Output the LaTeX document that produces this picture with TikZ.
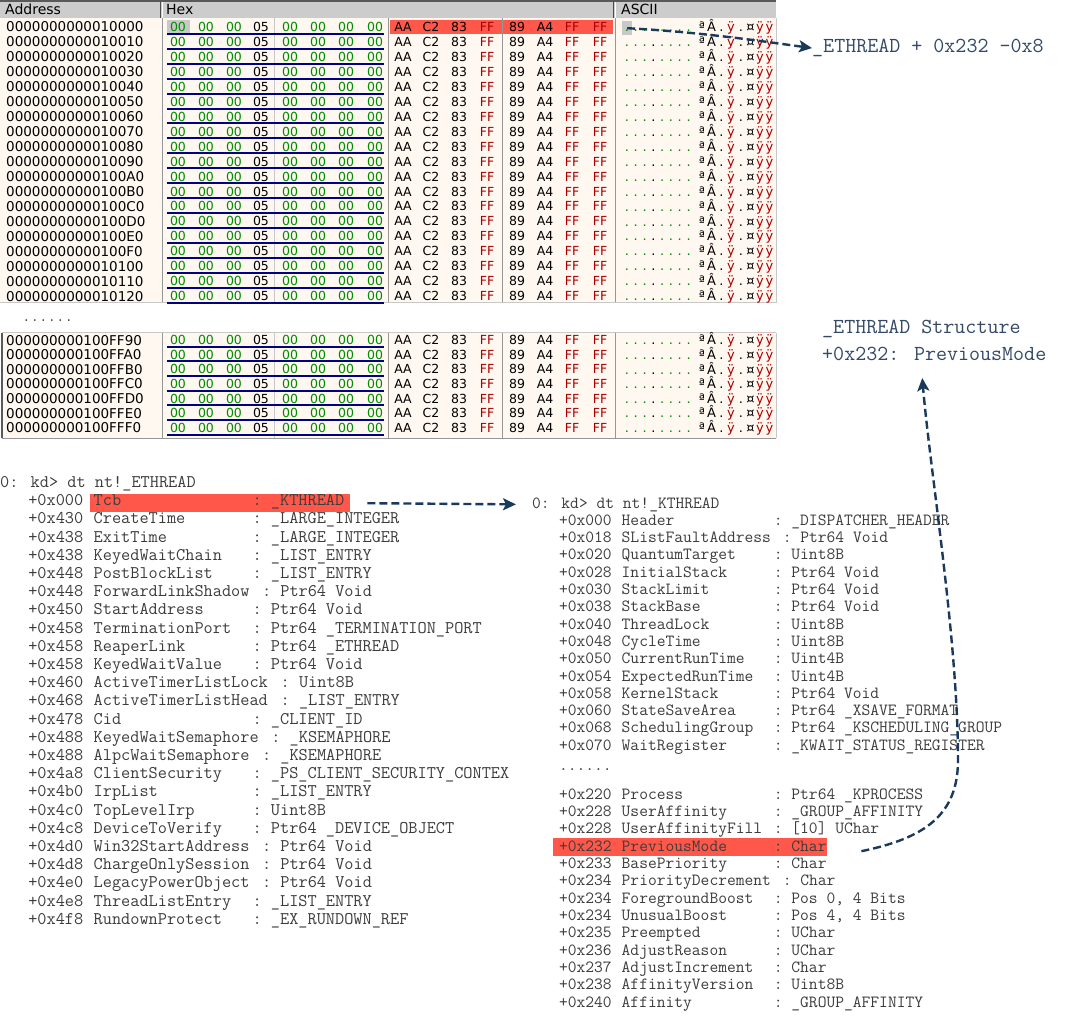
\documentclass[tikz,border=0pt]{standalone}
\usepackage{fontspec}
\setmainfont{DejaVu Sans}
\newfontfamily\hexfont{DejaVu Sans}
\usetikzlibrary{arrows.meta}
\definecolor{panelbg}{RGB}{255,248,240}
\definecolor{hdrbg}{RGB}{204,204,204}
\definecolor{hexgreen}{RGB}{0,140,0}
\definecolor{hexred}{RGB}{170,0,0}
\definecolor{ulblue}{RGB}{0,0,128}
\definecolor{hilite}{RGB}{255,88,74}
\definecolor{arrowc}{RGB}{26,58,92}
\definecolor{annot}{RGB}{52,73,102}
\definecolor{dbgtext}{RGB}{60,60,60}
\definecolor{sepgray}{RGB}{150,150,150}
\definecolor{selgray}{RGB}{200,200,200}
\tikzset{
  addr/.style={font=\hexfont\fontsize{13.5}{13.5}\selectfont, anchor=base west, inner sep=0pt},
  hb/.style={font=\hexfont\fontsize{12.5}{12.5}\selectfont, anchor=base, inner sep=0pt},
  asc/.style={font=\hexfont\fontsize{13}{13}\selectfont, anchor=base, inner sep=0pt},
  hdr/.style={font=\hexfont\fontsize{14}{14}\selectfont, anchor=base west, inner sep=0pt},
  ltxt/.style={font=\ttfamily\fontsize{17.8}{17.8}\selectfont, text=dbgtext, anchor=base west, inner sep=0pt},
  rtxt/.style={font=\ttfamily\fontsize{17.05}{17.05}\selectfont, text=dbgtext, anchor=base west, inner sep=0pt},
  note/.style={font=\ttfamily\fontsize{21.4}{21.4}\selectfont, text=annot, anchor=base west, inner sep=0pt},
  hlbox/.style={fill=hilite, inner sep=0pt, anchor=north west},
  selbox/.style={fill=selgray, inner sep=0pt, anchor=north west},
  conn/.style={draw=arrowc, line width=2.4pt, dash pattern=on 8pt off 4pt, -{Stealth[length=13pt,width=12pt,inset=3pt]}},
  colsep/.style={draw=sepgray, line width=1pt},
  lightsep/.style={draw=selgray, line width=1pt},
}
\newcommand\hexrow[3]{%
  \node[addr] (ad#3) at (6,#1+5) {#2};
  \foreach \bx/\bt/\bc [count=\k] in {178/00/hexgreen,206/00/hexgreen,234/00/hexgreen,261/05/black,290/00/hexgreen,318/00/hexgreen,346/00/hexgreen,375/00/hexgreen,403/AA/black,431/C2/black,459/83/black,487/FF/hexred,517/89/black,545/A4/black,572/FF/hexred,600/FF/hexred}
    {\node[hb, text=\bc] (by#3-\k) at (\bx,#1+4.6) {\bt};}
  \draw[ulblue, line width=2pt] (167,#1+6.8) -- (384,#1+6.8);
  \foreach \cx/\ct/\cc [count=\k] in {627/./hexgreen,635.8/./hexgreen,644.6/./hexgreen,653.4/./black,662.2/./hexgreen,671/./hexgreen,679.8/./hexgreen,688.6/./hexgreen,702/ª/black,711.5/Â/black,721.5/./black,731/ÿ/hexred,741/./black,750.5/¤/black,760/ÿ/hexred,769.5/ÿ/hexred}
    {\node[asc, text=\cc] (ch#3-\k) at (\cx,#1+4.7) {\ct};}
}
\newcommand\erow[5]{%
  \node[ltxt] (Eo#3) at (3*9.35, 487.5+18.2*#1) {#2};
  \node[ltxt] (E#3) at (10*9.35, 487.5+18.2*#1) {#3};
  \node[ltxt] (Et#3) at (#4*9.35, 487.5+18.2*#1) {:~#5};
}
\newcommand\krow[5]{%
  \node[rtxt] (Ko#3) at (532+3*8.95, #1+5) {#2};
  \node[rtxt] (K#3) at (532+10*8.95, #1+5) {#3};
  \node[rtxt] (Kt#3) at (532+#4*8.95, #1+5) {:~#5};
}
\begin{document}
\begin{tikzpicture}[x=1pt,y=-1pt]
\fill[white] (0,0) rectangle (1074,1024);
\useasboundingbox (0,0) rectangle (1074,1024);

% ---------- hex panel 1 ----------
\fill[panelbg] (0,18) rectangle (776,303);
\fill[hdrbg] (0,2) rectangle (776,18);
\draw[gray!70!black, line width=1.5pt] (0,1) -- (776,1);
\draw[gray!60!black, line width=1pt] (160.5,2) -- (160.5,18);
\draw[white, line width=1pt] (162,2) -- (162,18);
\draw[gray!60!black, line width=1pt] (613.5,2) -- (613.5,18);
\draw[white, line width=1pt] (615,2) -- (615,18);
\node[hdr] (hAddr) at (5,15) {Address};
\node[hdr] (hHex) at (166,15) {Hex};
\node[hdr] (hAscii) at (621,15) {ASCII};
\node[selbox, minimum width=23pt, minimum height=14pt] (bsel) at (167,20) {};
\node[hlbox, minimum width=223pt, minimum height=14pt] (hexhl) at (390,20) {};
\node[selbox, minimum width=10pt, minimum height=14pt] (asel) at (622,21) {};
\foreach \sx in {162,388,502,615} {\draw[colsep] (\sx,18) -- (\sx,303);}
\draw[lightsep] (274,18) -- (274,303);
\draw[lightsep] (776,18) -- (776,303);
\draw[lightsep] (0,303) -- (776,303);
\foreach \a [count=\i from 0] in {10000,10010,10020,10030,10040,10050,10060,10070,10080,10090,100A0,100B0,100C0,100D0,100E0,100F0,10100,10110,10120}
  {\hexrow{27+14.95*\i}{00000000000\a}{p\i}}

\node[font=\ttfamily\fontsize{16.5}{16.5}\selectfont, text=black!75, anchor=base west, inner sep=0pt] (gapA) at (22,322) {......};

% ---------- hex panel 2 ----------
\fill[panelbg] (2,333) rectangle (776,438);
\draw[lightsep] (2,333) -- (776,333);
\draw[gray!70!black, line width=1.2pt] (2,333) -- (2,438);
\foreach \sx in {162,388,502,615} {\draw[colsep] (\sx,333) -- (\sx,438);}
\draw[lightsep] (274,333) -- (274,438);
\draw[lightsep] (776,333) -- (776,438);
\draw[colsep] (2,438) -- (776,438);
\foreach \a [count=\i from 0] in {100FF90,100FFA0,100FFB0,100FFC0,100FFD0,100FFE0,100FFF0}
  {\hexrow{340+14.65*\i}{000000000\a}{q\i}}

% ---------- annotations ----------
\node[note] (n1) at (812,52.6) {\_ETHREAD + 0x232 -0x8};
\node[note] (n2) at (822,333.6) {\_ETHREAD Structure};
\node[note] (n3) at (822,360.6) {+0x232: PreviousMode};

% ---------- left: _ETHREAD ----------
\node[hlbox, minimum width=260pt, minimum height=18pt] (tcbhl) at (90,494) {};
\node[ltxt] (Ehdr) at (0,487.5) {0: kd> dt nt!\_ETHREAD};
\erow{1}{+0x000}{Tcb}{27}{\_KTHREAD}
\erow{2}{+0x430}{CreateTime}{27}{\_LARGE\_INTEGER}
\erow{3}{+0x438}{ExitTime}{27}{\_LARGE\_INTEGER}
\erow{4}{+0x438}{KeyedWaitChain}{27}{\_LIST\_ENTRY}
\erow{5}{+0x448}{PostBlockList}{27}{\_LIST\_ENTRY}
\erow{6}{+0x448}{ForwardLinkShadow}{28}{Ptr64 Void}
\erow{7}{+0x450}{StartAddress}{27}{Ptr64 Void}
\erow{8}{+0x458}{TerminationPort}{27}{Ptr64 \_TERMINATION\_PORT}
\erow{9}{+0x458}{ReaperLink}{27}{Ptr64 \_ETHREAD}
\erow{10}{+0x458}{KeyedWaitValue}{27}{Ptr64 Void}
\erow{11}{+0x460}{ActiveTimerListLock}{30}{Uint8B}
\erow{12}{+0x468}{ActiveTimerListHead}{30}{\_LIST\_ENTRY}
\erow{13}{+0x478}{Cid}{27}{\_CLIENT\_ID}
\erow{14}{+0x488}{KeyedWaitSemaphore}{29}{\_KSEMAPHORE}
\erow{15}{+0x488}{AlpcWaitSemaphore}{28}{\_KSEMAPHORE}
\erow{16}{+0x4a8}{ClientSecurity}{27}{\_PS\_CLIENT\_SECURITY\_CONTEX}
\erow{17}{+0x4b0}{IrpList}{27}{\_LIST\_ENTRY}
\erow{18}{+0x4c0}{TopLevelIrp}{27}{Uint8B}
\erow{19}{+0x4c8}{DeviceToVerify}{27}{Ptr64 \_DEVICE\_OBJECT}
\erow{20}{+0x4d0}{Win32StartAddress}{28}{Ptr64 Void}
\erow{21}{+0x4d8}{ChargeOnlySession}{28}{Ptr64 Void}
\erow{22}{+0x4e0}{LegacyPowerObject}{28}{Ptr64 Void}
\erow{23}{+0x4e8}{ThreadListEntry}{27}{\_LIST\_ENTRY}
\erow{24}{+0x4f8}{RundownProtect}{27}{\_EX\_RUNDOWN\_REF}

% ---------- right: _KTHREAD ----------
\node[rtxt] (Khdr) at (532,508) {0: kd> dt nt!\_KTHREAD};
\krow{503+17.3*1}{+0x000}{Header}{27}{\_DISPATCHER\_HEADER}
\krow{503+17.3*2}{+0x018}{SListFaultAddress}{28}{Ptr64 Void}
\krow{503+17.3*3}{+0x020}{QuantumTarget}{27}{Uint8B}
\krow{503+17.3*4}{+0x028}{InitialStack}{27}{Ptr64 Void}
\krow{503+17.3*5}{+0x030}{StackLimit}{27}{Ptr64 Void}
\krow{503+17.3*6}{+0x038}{StackBase}{27}{Ptr64 Void}
\krow{503+17.3*7}{+0x040}{ThreadLock}{27}{Uint8B}
\krow{503+17.3*8}{+0x048}{CycleTime}{27}{Uint8B}
\krow{503+17.3*9}{+0x050}{CurrentRunTime}{27}{Uint4B}
\krow{503+17.3*10}{+0x054}{ExpectedRunTime}{27}{Uint4B}
\krow{503+17.3*11}{+0x058}{KernelStack}{27}{Ptr64 Void}
\krow{503+17.3*12}{+0x060}{StateSaveArea}{27}{Ptr64 \_XSAVE\_FORMAT}
\krow{503+17.3*13}{+0x068}{SchedulingGroup}{27}{Ptr64 \_KSCHEDULING\_GROUP}
\krow{503+17.3*14}{+0x070}{WaitRegister}{27}{\_KWAIT\_STATUS\_REGISTER}
\node[rtxt] (Kgap) at (532+3*8.95,770.5) {......};

\node[hlbox, minimum width=274pt, minimum height=18pt] (pmhl) at (553,838) {};
\krow{794.3+17.33*0}{+0x220}{Process}{27}{Ptr64 \_KPROCESS}
\krow{794.3+17.33*1}{+0x228}{UserAffinity}{27}{\_GROUP\_AFFINITY}
\krow{794.3+17.33*2}{+0x228}{UserAffinityFill}{27}{[10] UChar}
\krow{794.3+17.33*3}{+0x232}{PreviousMode}{27}{Char}
\krow{794.3+17.33*4}{+0x233}{BasePriority}{27}{Char}
\krow{794.3+17.33*5}{+0x234}{PriorityDecrement}{28}{Char}
\krow{794.3+17.33*6}{+0x234}{ForegroundBoost}{27}{Pos 0, 4 Bits}
\krow{794.3+17.33*7}{+0x234}{UnusualBoost}{27}{Pos 4, 4 Bits}
\krow{794.3+17.33*8}{+0x235}{Preempted}{27}{UChar}
\krow{794.3+17.33*9}{+0x236}{AdjustReason}{27}{UChar}
\krow{794.3+17.33*10}{+0x237}{AdjustIncrement}{27}{Char}
\krow{794.3+17.33*11}{+0x238}{AffinityVersion}{27}{Uint8B}
\krow{794.3+17.33*12}{+0x240}{Affinity}{27}{\_GROUP\_AFFINITY}

% ---------- connectors ----------
\draw[conn] (asel.center) .. controls (700,32) and (760,41) .. (n1.west);
\draw[conn] ([xshift=17pt]tcbhl.east) -- ([xshift=-16pt]Khdr.west);
\draw[conn] ([xshift=34pt,yshift=-4pt]pmhl.east) .. controls (925,838) and (958,815) .. (958,760) .. controls (958,640) and (930,470) .. ([xshift=-12pt,yshift=-17pt]n3.south);
\end{tikzpicture}
\end{document}
